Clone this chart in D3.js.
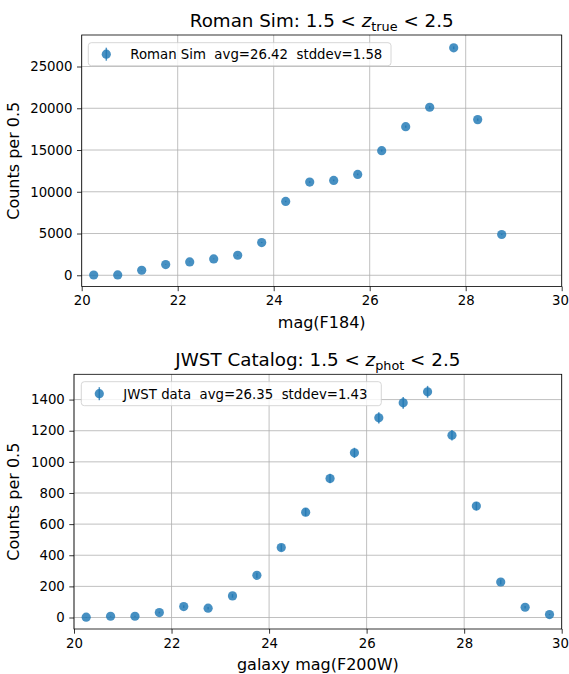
<!DOCTYPE html>
<html>
<head>
<meta charset="utf-8">
<script src="https://cdn.jsdelivr.net/npm/d3@7"></script>
<style>
  html, body { margin: 0; padding: 0; background: #fff; }
  svg { display: block; font-family: "DejaVu Sans", sans-serif; }
</style>
</head>
<body>
<svg id="chart" width="569" height="674"></svg>
<script>
// ---- data ----
const romanMag = [20.25, 20.75, 21.25, 21.75, 22.25, 22.75, 23.25, 23.75, 24.25, 24.75, 25.25, 25.75, 26.25, 26.75, 27.25, 27.75, 28.25, 28.75];
const romanCounts = [30, 40, 600, 1280, 1600, 1960, 2400, 3920, 8840, 11160, 11360, 12080, 14920, 17800, 20120, 27240, 18640, 4880];
const jwstMag = [20.25, 20.75, 21.25, 21.75, 22.25, 22.75, 23.25, 23.75, 24.25, 24.75, 25.25, 25.75, 26.25, 26.75, 27.25, 27.75, 28.25, 28.75, 29.25, 29.75];
const jwstCounts = [2, 8, 8, 32, 70, 60, 139, 271, 449, 677, 893, 1058, 1283, 1379, 1450, 1171, 716, 228, 66, 19];
const xTicks = [20, 22, 24, 26, 28, 30];
const romanYTicks = [0, 5000, 10000, 15000, 20000, 25000];
const jwstYTicks = [0, 200, 400, 600, 800, 1000, 1200, 1400];
const romanLegend = "Roman Sim  avg=26.42  stddev=1.58";
const jwstLegend = "JWST data  avg=26.35  stddev=1.43";

const svg = d3.select("#chart");
const COLOR = "#1f77b4";

function panel(cfg) {
  const { left, right, top, bottom, xs, ys, yTicks, titleParts, xLabel, legendText, legendBox } = cfg;
  const g = svg.append("g");
  const x = d3.scaleLinear().domain([20, 30]).range([left, right]);
  const lo = d3.min(ys, v => v - Math.sqrt(v));
  const hi = d3.max(ys, v => v + Math.sqrt(v));
  const pad = (hi - lo) * 0.05;
  const y = d3.scaleLinear().domain([lo - pad, hi + pad]).range([bottom, top]);

  // grid
  g.append("g").selectAll("line").data(xTicks).join("line")
    .attr("x1", d => x(d)).attr("x2", d => x(d)).attr("y1", top).attr("y2", bottom)
    .attr("stroke", "#b0b0b0").attr("stroke-width", 0.8);
  g.append("g").selectAll("line").data(yTicks).join("line")
    .attr("x1", left).attr("x2", right).attr("y1", d => y(d)).attr("y2", d => y(d))
    .attr("stroke", "#b0b0b0").attr("stroke-width", 0.8);

  // axes
  const xa = g.append("g").attr("transform", `translate(0,${bottom})`)
    .call(d3.axisBottom(x).tickValues(xTicks).tickFormat(d3.format("d")).tickSize(4.7).tickPadding(4.5));
  const ya = g.append("g").attr("transform", `translate(${left},0)`)
    .call(d3.axisLeft(y).tickValues(yTicks).tickFormat(d3.format("d")).tickSize(4.7).tickPadding(4.5));
  [xa, ya].forEach(a => {
    a.select(".domain").remove();
    a.selectAll(".tick line").attr("stroke", "#000").attr("stroke-width", 0.8);
    a.selectAll(".tick text").attr("fill", "#000").style("font-size", "13.3px").style("font-family", "DejaVu Sans");
  });
  // keep the last x tick label inside the window
  xa.selectAll(".tick text").filter(d => d === 30).attr("dx", -1.8);

  // error bars + markers
  const pts = g.append("g");
  pts.selectAll("line").data(xs.map((m, i) => [m, ys[i]])).join("line")
    .attr("x1", d => x(d[0])).attr("x2", d => x(d[0]))
    .attr("y1", d => y(d[1] - Math.sqrt(d[1]))).attr("y2", d => y(d[1] + Math.sqrt(d[1])))
    .attr("stroke", COLOR).attr("stroke-width", 1.5).attr("stroke-opacity", 0.8);
  pts.selectAll("circle").data(xs.map((m, i) => [m, ys[i]])).join("circle")
    .attr("cx", d => x(d[0])).attr("cy", d => y(d[1])).attr("r", 4.6)
    .attr("fill", COLOR).attr("fill-opacity", 0.82);

  // frame
  g.append("rect").attr("x", left).attr("y", top).attr("width", right - left).attr("height", bottom - top)
    .attr("fill", "none").attr("stroke", "#000").attr("stroke-width", 0.8);

  // title
  const t = g.append("text").attr("x", (left + right) / 2).attr("y", top - 8.5)
    .attr("text-anchor", "middle").style("font-size", "18.3px").attr("fill", "#000");
  t.append("tspan").text(titleParts[0] + " 1.5 < ");
  t.append("tspan").style("font-style", "italic").text("z");
  t.append("tspan").style("font-size", "12.8px").attr("dy", 4).text(titleParts[1]);
  t.append("tspan").attr("dy", -4).text(" < 2.5");

  // x label
  g.append("text").attr("x", (left + right) / 2).attr("y", bottom + 41)
    .attr("text-anchor", "middle").style("font-size", "16px").attr("fill", "#000").text(xLabel);
  // y label
  g.append("text").attr("transform", `translate(19,${(top + bottom) / 2}) rotate(-90)`)
    .attr("text-anchor", "middle").style("font-size", "16px").attr("fill", "#000").text("Counts per 0.5");

  // legend
  const lg = g.append("g");
  lg.append("rect").attr("x", legendBox[0]).attr("y", legendBox[1]).attr("width", legendBox[2]).attr("height", legendBox[3])
    .attr("rx", 3).attr("fill", "#fff").attr("fill-opacity", 0.8).attr("stroke", "#cccccc").attr("stroke-width", 0.8);
  const my = legendBox[1] + legendBox[3] / 2;
  const mx = legendBox[0] + 18;
  lg.append("line").attr("x1", mx).attr("x2", mx).attr("y1", my - 6.5).attr("y2", my + 6.5)
    .attr("stroke", COLOR).attr("stroke-width", 1.5).attr("stroke-opacity", 0.8);
  lg.append("circle").attr("cx", mx).attr("cy", my).attr("r", 4.6).attr("fill", COLOR).attr("fill-opacity", 0.82);
  lg.append("text").attr("x", legendBox[0] + 42).attr("y", my + 4.8)
    .style("font-size", "13.3px").style("white-space", "pre").attr("xml:space", "preserve")
    .attr("fill", "#000").text(legendText);
}

panel({
  left: 81.7, right: 561.7, top: 35, bottom: 286.5,
  xs: romanMag, ys: romanCounts, yTicks: romanYTicks,
  titleParts: ["Roman Sim:", "true"], xLabel: "mag(F184)",
  legendText: romanLegend, legendBox: [88.3, 42.7, 302.7, 23]
});
panel({
  left: 74, right: 561.7, top: 374.3, bottom: 629,
  xs: jwstMag, ys: jwstCounts, yTicks: jwstYTicks,
  titleParts: ["JWST Catalog:", "phot"], xLabel: "galaxy mag(F200W)",
  legendText: jwstLegend, legendBox: [81.3, 381.7, 300, 24]
});
</script>
</body>
</html>
